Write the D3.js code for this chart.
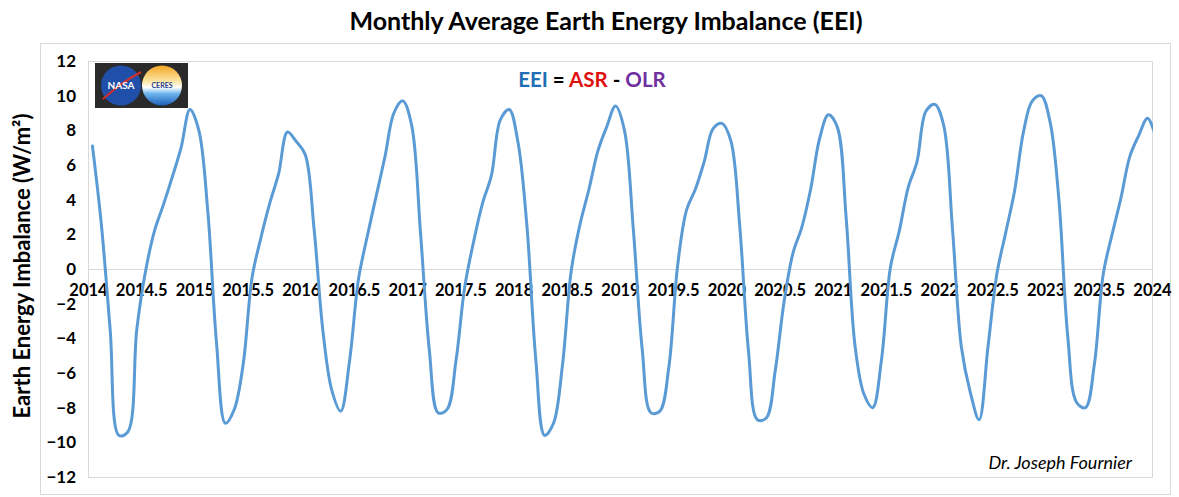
<!DOCTYPE html>
<html>
<head>
<meta charset="utf-8">
<script src="https://cdn.jsdelivr.net/npm/d3@7"></script>
<style>
  html, body { margin: 0; padding: 0; background: #fff; }
  svg { display: block; }
  text { font-family: Lato, "Open Sans", sans-serif; }
</style>
</head>
<body>
<svg id="chart" width="1179" height="497"></svg>
<script>
// ---- Data (monthly EEI, W/m², mid-month) ----
const years = [2014, 2015, 2016, 2017, 2018, 2019, 2020, 2021, 2022, 2023, 2024];
const eei2014 = [7.1, 2.6, -3.5, -9.6, -9.4, -3.5, -0.1, 2.2, 3.7, 5.3, 7.0, 9.2];
const eei2015 = [8.0, 3.4, -4.3, -8.9, -8.1, -5.5, -0.5, 1.8, 3.8, 5.5, 7.9, 7.35];
const eei2016 = [6.6, 2.3, -3.6, -7.0, -8.2, -5.3, -0.6, 1.9, 4.2, 6.5, 9.0, 9.7];
const eei2017 = [8.3, 2.1, -4.7, -8.3, -8.1, -5.3, -1.0, 1.6, 3.8, 5.4, 8.6, 9.2];
const eei2018 = [7.3, 2.5, -5.2, -9.6, -8.9, -5.6, -0.1, 2.6, 4.6, 6.8, 8.2, 9.4];
const eei2019 = [8.0, 2.3, -4.6, -8.3, -8.2, -5.7, 0.2, 3.4, 4.6, 6.2, 8.1, 8.4];
const eei2020 = [7.4, 2.5, -4.8, -8.7, -8.6, -5.9, -1.9, 0.9, 2.4, 4.6, 7.5, 8.9];
const eei2021 = [8.2, 3.0, -4.4, -7.2, -8.0, -5.2, 0.1, 2.2, 4.7, 6.2, 9.1, 9.5];
const eei2022 = [8.3, 2.3, -4.5, -7.1, -8.7, -4.5, -0.3, 2.1, 4.5, 7.9, 9.7, 10.0];
const eei2023 = [8.5, 4.0, -3.9, -7.7, -8.0, -5.5, -0.3, 2.0, 4.1, 6.5, 7.7, 8.7];
const eei2024 = [7.5];
const xTicks = [2014, 2014.5, 2015, 2015.5, 2016, 2016.5, 2017, 2017.5, 2018, 2018.5,
                2019, 2019.5, 2020, 2020.5, 2021, 2021.5, 2022, 2022.5, 2023, 2023.5, 2024];
const yTicks = [-12, -10, -8, -6, -4, -2, 0, 2, 4, 6, 8, 10, 12];

const seriesByYear = [eei2014, eei2015, eei2016, eei2017, eei2018, eei2019,
                      eei2020, eei2021, eei2022, eei2023, eei2024];
const data = [];
seriesByYear.forEach((arr, i) => {
  arr.forEach((v, m) => data.push({ t: years[i] + (m + 0.5) / 12, v }));
});

// ---- Layout ----
const svg = d3.select("#chart");
const plot = { left: 88, right: 1152, top: 61, bottom: 477 };

const x = d3.scaleLinear().domain([2014, 2024]).range([plot.left, plot.right]);
const y = d3.scaleLinear().domain([-12, 12]).range([plot.bottom, plot.top]);

// chart outer border
svg.append("rect")
  .attr("x", 40.5).attr("y", 43.5).attr("width", 1130).attr("height", 451)
  .attr("fill", "none").attr("stroke", "#d9d9d9").attr("stroke-width", 1);

// plot area border
svg.append("rect")
  .attr("x", plot.left + 0.5).attr("y", plot.top + 0.5)
  .attr("width", plot.right - plot.left).attr("height", plot.bottom - plot.top)
  .attr("fill", "none").attr("stroke", "#d9d9d9").attr("stroke-width", 1);

// zero line
svg.append("line")
  .attr("x1", plot.left).attr("x2", plot.right)
  .attr("y1", Math.round(y(0)) + 0.5).attr("y2", Math.round(y(0)) + 0.5)
  .attr("stroke", "#d9d9d9").attr("stroke-width", 1);

// Title
svg.append("text")
  .attr("x", 606).attr("y", 30)
  .attr("text-anchor", "middle")
  .attr("font-size", 25).attr("font-weight", "bold").attr("fill", "#000")
  .text("Monthly Average Earth Energy Imbalance (EEI)");

// Y axis
const yAxis = d3.axisLeft(y).tickValues(yTicks).tickSize(0).tickPadding(12);
const gy = svg.append("g").attr("transform", `translate(${plot.left},0)`).call(yAxis);
gy.select(".domain").remove();
gy.selectAll("text")
  .attr("font-family", "Lato, 'Open Sans', sans-serif")
  .attr("font-size", 17).attr("font-weight", "bold").attr("fill", "#000");

// X axis labels at the zero line
const xAxis = d3.axisBottom(x).tickValues(xTicks).tickSize(0).tickPadding(15)
  .tickFormat(d => String(d));
const gx = svg.append("g").attr("transform", `translate(0,${y(0)})`).call(xAxis);
gx.select(".domain").remove();
gx.selectAll("text")
  .attr("font-family", "Lato, 'Open Sans', sans-serif")
  .attr("font-size", 16.5).attr("font-weight", "bold").attr("fill", "#000");

// Y axis title
svg.append("text")
  .attr("transform", `translate(30,${(plot.top + plot.bottom) / 2 - 3}) rotate(-90)`)
  .attr("text-anchor", "middle")
  .attr("font-size", 22).attr("font-weight", "bold").attr("fill", "#000")
  .text("Earth Energy Imbalance (W/m²)");

// Legend equation
const eq = svg.append("text")
  .attr("x", 592).attr("y", 87)
  .attr("text-anchor", "middle")
  .attr("font-size", 20.5).attr("font-weight", "bold");
eq.append("tspan").attr("fill", "#1f6eb6").text("EEI");
eq.append("tspan").attr("fill", "#000").text(" = ");
eq.append("tspan").attr("fill", "#e01010").text("ASR");
eq.append("tspan").attr("fill", "#000").text(" - ");
eq.append("tspan").attr("fill", "#7030a0").text("OLR");

// Logo box (NASA + CERES)
const logo = svg.append("g");
logo.append("rect").attr("x", 95).attr("y", 63).attr("width", 93).attr("height", 45).attr("fill", "#2a2a2a");
const defs = svg.append("defs");
const cg = defs.append("linearGradient").attr("id", "ceres").attr("x1", 0).attr("x2", 0).attr("y1", 0).attr("y2", 1);
cg.append("stop").attr("offset", "0%").attr("stop-color", "#f4a524");
cg.append("stop").attr("offset", "40%").attr("stop-color", "#fbe7a6");
cg.append("stop").attr("offset", "55%").attr("stop-color", "#ffffff");
cg.append("stop").attr("offset", "70%").attr("stop-color", "#6fb6ee");
cg.append("stop").attr("offset", "100%").attr("stop-color", "#1b5fb8");
logo.append("circle").attr("cx", 121).attr("cy", 85.5).attr("r", 20).attr("fill", "#1f4fa8");
logo.append("path").attr("d", "M103,99 Q122,82 141,72").attr("stroke", "#d0302a").attr("stroke-width", 2).attr("fill", "none");
logo.append("text").attr("x", 121).attr("y", 89).attr("text-anchor", "middle")
  .attr("font-size", 10).attr("font-weight", "bold").attr("fill", "#fff")
  .attr("font-family", "Liberation Serif, serif").text("NASA");
logo.append("circle").attr("cx", 162).attr("cy", 85.5).attr("r", 20).attr("fill", "url(#ceres)");
logo.append("text").attr("x", 162).attr("y", 88).attr("text-anchor", "middle")
  .attr("font-size", 7).attr("font-weight", "bold").attr("fill", "#1b3d8f")
  .attr("font-family", "Liberation Serif, serif").text("CERES");

// Signature
svg.append("text")
  .attr("x", 1132).attr("y", 469)
  .attr("text-anchor", "end")
  .attr("font-size", 18).attr("font-style", "italic").attr("fill", "#000")
  .text("Dr. Joseph Fournier");

// Clip and line
defs.append("clipPath").attr("id", "plotclip")
  .append("rect").attr("x", plot.left).attr("y", plot.top - 5)
  .attr("width", plot.right - plot.left + 1).attr("height", plot.bottom - plot.top + 10);

const line = d3.line()
  .x(d => x(d.t)).y(d => y(d.v))
  .curve(d3.curveCatmullRom.alpha(0.5));

svg.append("path")
  .datum(data)
  .attr("clip-path", "url(#plotclip)")
  .attr("fill", "none")
  .attr("stroke", "#5b9bd5")
  .attr("stroke-width", 3)
  .attr("stroke-linejoin", "round")
  .attr("stroke-linecap", "round")
  .attr("d", line);
</script>
</body>
</html>
